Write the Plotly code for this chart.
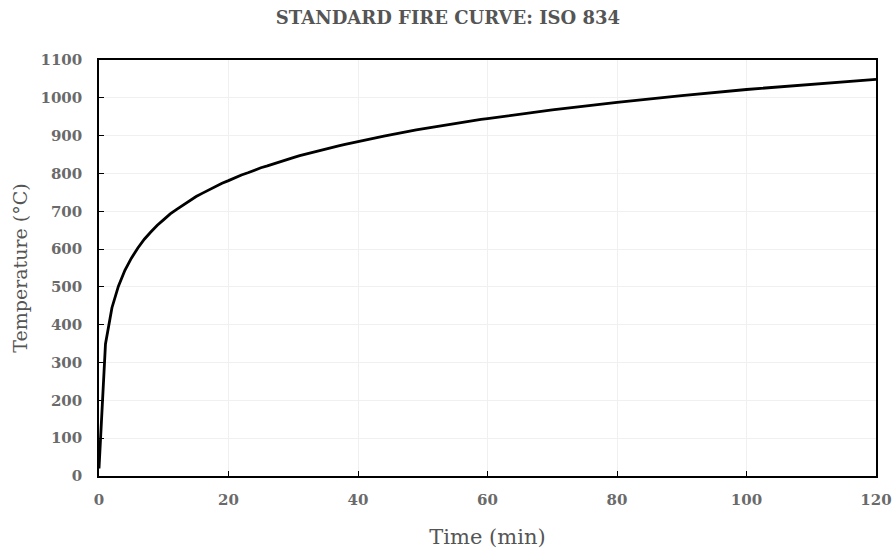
import plotly.graph_objects as go

# Time (min) and temperature (°C)
time_min = list(range(0, 61)) + [70, 80, 90, 100, 110, 120]
temp_c = [20, 349, 445, 502, 544, 576, 603, 626, 645, 663,
          678, 693, 705, 717, 728, 739, 748, 757, 766, 774,
          781, 789, 796, 802, 809, 815, 820, 826, 832, 837,
          842, 847, 851, 856, 861, 865, 869, 873, 877, 881,
          885, 888, 892, 896, 899, 902, 906, 909, 912, 915,
          918, 921, 924, 927, 930, 932, 935, 938, 940, 943,
          945, 968, 988, 1006, 1022, 1036, 1049]

x_ticks = [0, 20, 40, 60, 80, 100, 120]
y_ticks = [0, 100, 200, 300, 400, 500, 600, 700, 800, 900, 1000, 1100]

SERIF = "DejaVu Serif"
W, H = 896, 549

fig = go.Figure()
fig.add_trace(go.Scatter(x=time_min, y=temp_c, mode="lines",
                         line=dict(color="black", width=2.8),
                         showlegend=False, hoverinfo="x+y"))

axis_common = dict(
    showline=True, linecolor="black", linewidth=1.5, mirror=True,
    ticks="inside", ticklen=5, tickcolor="black", tickwidth=1,
    showgrid=True, gridcolor="#f0f0f0", gridwidth=1, zeroline=False,
    automargin=False, ticklabeloverflow="allow",
    tickfont=dict(family=SERIF, size=15, color="#6a6a6a", weight="bold"),
)

fig.update_layout(
    width=W, height=H,
    paper_bgcolor="white", plot_bgcolor="white",
    margin=dict(l=99, r=20, t=60, b=73),
    title=dict(text="<b>STANDARD FIRE CURVE: ISO 834</b>", x=0.5,
               xanchor="center", y=1 - 18 / H, yanchor="middle",
               font=dict(family=SERIF, size=18, color="#555555")),
    xaxis=dict(range=[0, 120], tickvals=x_ticks, ticklabelstandoff=9,
               title=dict(text="Time (min)", standoff=27,
                          font=dict(family=SERIF, size=21, color="#555555")),
               **axis_common),
    yaxis=dict(range=[0, 1100], tickvals=y_ticks, ticklabelstandoff=12,
               title=dict(text="Temperature (°C)", standoff=8,
                          font=dict(family=SERIF, size=19, color="#555555")),
               **axis_common),
)

fig.write_html("out.html",
               config={"displayModeBar": False},
               post_script="document.body.style.margin='0';document.body.style.overflow='hidden';")
